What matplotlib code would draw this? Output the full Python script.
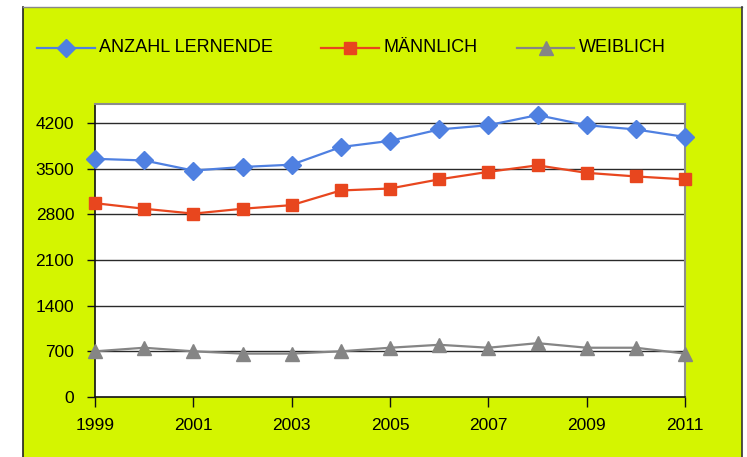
import matplotlib
matplotlib.use("Agg")
import matplotlib.pyplot as plt
from matplotlib.patches import Rectangle
from matplotlib.lines import Line2D

years = [1999, 2000, 2001, 2002, 2003, 2004, 2005, 2006, 2007, 2008, 2009, 2010, 2011]
anzahl = [3650, 3625, 3470, 3525, 3560, 3830, 3925, 4100, 4165, 4320, 4165, 4100, 3985]
maennlich = [2970, 2885, 2810, 2885, 2940, 3165, 3195, 3335, 3450, 3550, 3435, 3380, 3335]
weiblich = [700, 755, 700, 665, 665, 700, 755, 800, 755, 825, 755, 755, 665]
series_names = ["ANZAHL LERNENDE", "MÄNNLICH", "WEIBLICH"]
x_ticks = [1999, 2001, 2003, 2005, 2007, 2009, 2011]
y_ticks = [0, 700, 1400, 2100, 2800, 3500, 4200]

plt.rcParams['font.family'] = ['Liberation Sans', 'DejaVu Sans']

W, H = 747, 457
fig = plt.figure(figsize=(W / 100, H / 100), dpi=100, facecolor='white')

bg = '#D4F500'
# chart frame
fig.patches.append(Rectangle((23 / W, 0), (742 - 23) / W, (H - 7) / H,
                             transform=fig.transFigure, facecolor=bg,
                             edgecolor='none', zorder=0))
fig.add_artist(Line2D([23 / W, 23 / W], [0, (H - 7) / H], transform=fig.transFigure,
                      color='#222222', lw=1.2, zorder=0.5))
fig.add_artist(Line2D([23 / W, 742 / W], [(H - 7) / H, (H - 7) / H], transform=fig.transFigure,
                      color='#888888', lw=1.0, zorder=0.5))
fig.add_artist(Line2D([742 / W, 742 / W], [0, (H - 7) / H], transform=fig.transFigure,
                      color='#333333', lw=1.2, zorder=0.5))

left, right, top, bottom = 95, 685, 104, 397
ax = fig.add_axes([left / W, 1 - bottom / H, (right - left) / W, (bottom - top) / H])
ax.set_zorder(2)
ax.set_facecolor('white')

blue = '#4F80E1'
red = '#E8461E'
gray = '#858585'
colors = [blue, red, gray]
markers = ['D', 's', '^']
msizes = [9, 8.5, 10]

for vals, c, m, ms, name in zip([anzahl, maennlich, weiblich], colors, markers, msizes, series_names):
    ax.plot(years, vals, color=c, lw=1.6, marker=m, ms=ms, mec=c, mfc=c,
            clip_on=False, zorder=5, label=name)

ax.set_xlim(1999, 2011)
ax.set_ylim(0, 4490)
ax.set_xticks(x_ticks)
ax.set_xticklabels([str(v) for v in x_ticks])
ax.set_yticks(y_ticks)
ax.set_yticklabels([str(v) for v in y_ticks])
for v in y_ticks[1:]:
    ax.axhline(v, color='#2a2a2a', lw=1.0, zorder=1)

for s in ['top', 'right']:
    ax.spines[s].set_color('#8c8c8c')
    ax.spines[s].set_linewidth(1.5)
for s in ['left', 'bottom']:
    ax.spines[s].set_color('#111111')
    ax.spines[s].set_linewidth(1.2)

ax.tick_params(axis='y', direction='out', length=6, width=1, color='#111111',
               labelsize=12.5, pad=9)
ax.tick_params(axis='x', direction='out', length=7, width=1, color='#111111',
               labelsize=12.5, pad=8)

# manual legend (positions in pixels)
leg_y = 48
handle_x = [(37, 95), (321, 379), (517, 574)]
text_x = [99, 383, 579]
for (x0, x1), tx, c, m, ms, name in zip(handle_x, text_x, colors, markers, msizes, series_names):
    fig.add_artist(Line2D([x0 / W, x1 / W], [1 - leg_y / H, 1 - leg_y / H],
                          transform=fig.transFigure, color=c, lw=1.6, zorder=3))
    fig.add_artist(Line2D([(x0 + x1) / 2 / W], [1 - leg_y / H], transform=fig.transFigure,
                          color=c, marker=m, ms=ms, mec=c, mfc=c, lw=0, zorder=3))
    fig.text(tx / W, 1 - leg_y / H, name, fontsize=13, va='center', ha='left', zorder=3)

fig.savefig('out.png', dpi=100, facecolor='white')
